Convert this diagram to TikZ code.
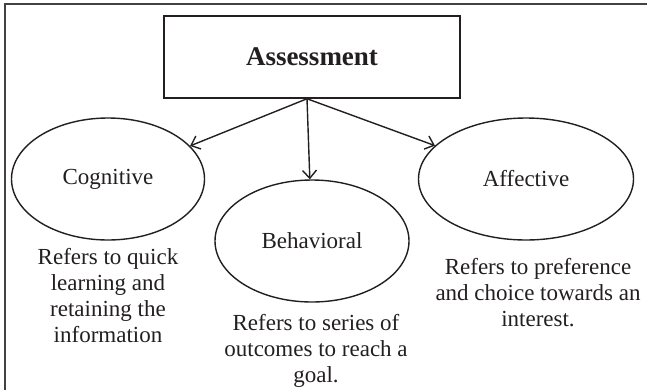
\documentclass[tikz,border=0pt]{standalone}
\usepackage{fontspec}
\setmainfont{Liberation Serif}
\usetikzlibrary{shapes.geometric, arrows.meta, positioning}
\definecolor{inkgray}{RGB}{35,31,32}

\begin{document}
\begin{tikzpicture}[x=1pt, y=-1pt,
  bubble/.style={draw=inkgray, ellipse, line width=1.4pt, inner sep=0pt, font=\fontsize{23}{26.5}\selectfont, text=inkgray},
  note/.style={align=center, inner sep=0pt, font=\fontsize{23}{26}\selectfont, text=inkgray},
  link/.style={draw=inkgray, line width=1.4pt, -{Straight Barb[length=8pt, width=14pt]}}]
  \useasboundingbox (0,0) rectangle (647,389);
  % outer frame, cut off at the right and bottom
  \draw[inkgray!85, line width=1.3pt] (5,395) -- (5,4) -- (652,4);
  \node[draw=inkgray, line width=1.5pt, minimum width=296pt, minimum height=82pt, font=\fontsize{27}{30}\selectfont\bfseries, text=inkgray] (assess) at (312,57) {Assessment};
  \node[bubble, minimum width=193pt, minimum height=122pt] (cog) at (108,179) {Cognitive};
  \node[bubble, minimum width=194pt, minimum height=122pt] (beh) at (312,241) {Behavioral};
  \node[bubble, minimum width=215pt, minimum height=122pt] (aff) at (526,179) {Affective};
  \node[note, below=7pt of cog] (cogtxt) {Refers to quick\\learning and\\retaining the\\information};
  \node[note, below=11pt of beh, xshift=4pt] (behtxt) {Refers to series of\\outcomes to reach a\\goal.};
  \node[note, below=17pt of aff, xshift=12pt] (afftxt) {Refers to preference\\and choice towards an\\interest.};
  \coordinate (hub) at ([xshift=-5pt]assess.south);
  \foreach \dest in {cog, beh, aff}
    \draw[link] (hub) -- (\dest);
\end{tikzpicture}
\end{document}
